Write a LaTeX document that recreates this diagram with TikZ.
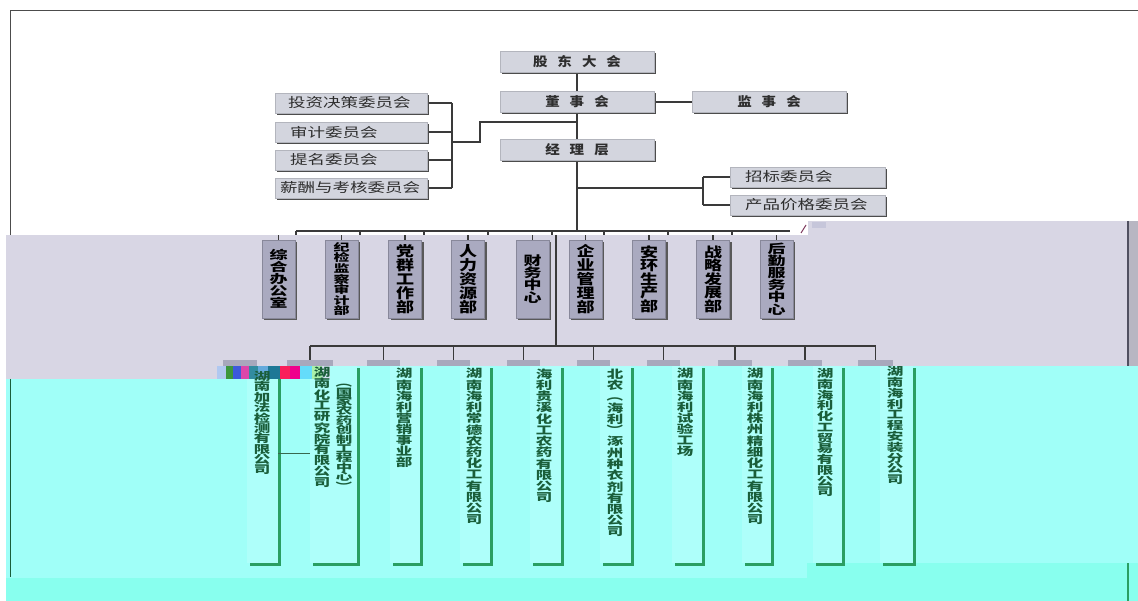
\documentclass[tikz,border=0pt]{standalone}
\usepackage{fontspec}
\usepackage{graphicx}
\newfontfamily\cjk{Noto Sans CJK SC}
\usetikzlibrary{shadows}
\pgfdeclarelayer{bg}
\pgfdeclarelayer{ln}
\pgfsetlayers{bg,ln,main}
\definecolor{lav}{HTML}{D8D6E4}
\definecolor{cyanbg}{HTML}{A0FFF8}
\definecolor{cyandk}{HTML}{88FFEE}
\definecolor{topgray}{HTML}{D3D5DE}
\definecolor{deptgray}{HTML}{AAAAC0}
\definecolor{stubgray}{HTML}{A8A8BC}
\definecolor{subfill}{HTML}{AEFFFA}
\definecolor{subgreen}{HTML}{2A9E62}
\definecolor{subtext}{HTML}{1A5E3A}
\definecolor{linec}{HTML}{3A3A3A}
\definecolor{txtdark}{HTML}{2E2E2E}
\makeatletter
\def\vst@end{\vst@end}
\newcommand\vst[3]{\vbox{\offinterlineskip\def\vst@bs{#1}\def\vst@ys{#2}\vst@loop#3\vst@end}}
\def\vst@loop#1{\ifx#1\vst@end\else\hbox to 1em{\hss\vbox to \vst@bs pt{\vss\hbox{\scalebox{1}[\vst@ys]{#1}}\vss}\hss}\expandafter\vst@loop\fi}
\makeatother
\newcommand\ysq[2]{\scalebox{1}[#1]{#2}}
\newcommand\lpv{\rotatebox[origin=c]{-90}{（}}
\newcommand\rpv{\rotatebox[origin=c]{-90}{）}}
\begin{document}
\begin{tikzpicture}[x=1pt,y=-1pt,
  topbox/.style={fill=topgray, draw=topgray!85!black, line width=0.4pt, minimum width=154pt, minimum height=21pt, inner sep=0pt,
    drop shadow={shadow xshift=2pt, shadow yshift=-2pt, fill=black!70, opacity=1}},
  cmtbox/.style={topbox, minimum width=152pt, minimum height=20pt},
  rcmtbox/.style={topbox, minimum width=155pt, minimum height=20pt},
  toptxt/.style={font=\cjk\bfseries\fontsize{14.5}{15}\selectfont, text=txtdark},
  cmtxt/.style={font=\cjk\fontsize{17.5}{18}\selectfont, text=txtdark, inner sep=0pt, anchor=west},
  deptbox/.style={fill=deptgray, draw=deptgray!80!black, line width=0.4pt, minimum width=33pt, minimum height=78pt, inner sep=0pt,
    font=\cjk\bfseries\fontsize{18}{18}\selectfont, text=black,
    drop shadow={shadow xshift=2pt, shadow yshift=-2pt, fill=black!65, opacity=1}},
  subbox/.style={fill=subfill, minimum height=197pt, inner sep=0pt,
    drop shadow={shadow xshift=2.5pt, shadow yshift=-2.5pt, fill=subgreen, opacity=1}},
  subtxt/.style={font=\cjk\bfseries\fontsize{16.5}{17}\selectfont, text=subtext, inner sep=0pt, anchor=north},
  stub/.style={fill=stubgray, minimum height=6pt, inner sep=0pt},
  conn/.style={draw=linec, line width=1.2pt}
]
\useasboundingbox (0,0) rectangle (1138,601);
% ---------------- backgrounds
\begin{pgfonlayer}{bg}
\fill[white] (0,0) rectangle (1138,601);
\fill[lav] (6,235) rectangle (1138,379);
\fill[lav] (808,221) rectangle (1138,235);
\fill[cyanbg] (330,366) rectangle (1138,578);
\fill[cyanbg] (6,379) rectangle (330,578);
\fill[cyandk] (6,578) rectangle (1138,601);
\fill[cyandk] (807,563) rectangle (1138,578);
\fill[fill={rgb,255:red,198;green,198;blue,218}] (812,222) rectangle (826,228);
\draw[draw={rgb,255:red,128;green,60;blue,96}, line width=1pt] (801,233) -- (806,225);
% right strip and borders
\fill[lav!85!black] (1129,221) rectangle (1138,366);
\draw[draw={rgb,255:red,80;green,80;blue,96}, line width=1.5pt] (1128,221) -- (1128,366);
\draw[subgreen, line width=1.5pt] (1128,563) -- (1128,601);
\draw[gray!60!black, line width=1pt] (10,11) -- (1138,11);
\draw[gray!60!black, line width=1pt] (10,11) -- (10,235);
\draw[subtext, line width=1pt] (10,379) -- (10,577);
\end{pgfonlayer}
% ---------------- top boxes
\node[topbox, toptxt] (gd) at (577,62) {\ysq{0.88}{股\kern10pt 东\kern10pt 大\kern10pt 会}};
\node[topbox, toptxt] (ds) at (577,102) {\ysq{0.88}{董\kern10pt 事\kern10pt 会}};
\node[topbox, toptxt] (js) at (769,102) {\ysq{0.88}{监\kern10pt 事\kern10pt 会}};
\node[topbox, toptxt] (jl) at (577,150) {\ysq{0.88}{经\kern10pt 理\kern10pt 层}};
\node[cmtbox] (c1) at (351,103) {};
\node[cmtbox] (c2) at (351,132) {};
\node[cmtbox] (c3) at (351,160) {};
\node[cmtbox] (c4) at (351,188) {};
\node[cmtxt] (c1t) at (288,103) {\ysq{0.75}{投资决策委员会}};
\node[cmtxt] (c2t) at (290,132) {\ysq{0.75}{审计委员会}};
\node[cmtxt] (c3t) at (290,160) {\ysq{0.75}{提名委员会}};
\node[cmtxt] (c4t) at (280,188) {\ysq{0.75}{薪酬与考核委员会}};
\node[rcmtbox] (r1) at (807.5,177) {};
\node[rcmtbox] (r2) at (807.5,205) {};
\node[cmtxt] (r1t) at (745,177) {\ysq{0.75}{招标委员会}};
\node[cmtxt] (r2t) at (745,205) {\ysq{0.75}{产品价格委员会}};
% ---------------- departments
\node[deptbox] (d1) at (278.5,279) {\vst{11.9}{0.66}{综合办公室}};
\node[deptbox, font=\cjk\bfseries\fontsize{16}{16}\selectfont] (d2) at (341.5,279) {\vst{10.6}{0.65}{纪检监察审计部}};
\node[deptbox] (d3) at (405,279) {\vst{13.9}{0.78}{党群工作部}};
\node[deptbox] (d4) at (468,279) {\vst{13.9}{0.78}{人力资源部}};
\node[deptbox] (d5) at (532.5,279) {\vst{12.3}{0.70}{财务中心}};
\node[deptbox] (d6) at (585.5,279) {\vst{13.9}{0.78}{企业管理部}};
\node[deptbox] (d7) at (649,279) {\vst{13.5}{0.76}{安环生产部}};
\node[deptbox] (d8) at (713,279) {\vst{13.5}{0.76}{战略发展部}};
\node[deptbox] (d9) at (776.5,279) {\vst{12.1}{0.68}{后勤服务中心}};
% ---------------- subsidiary stubs (lavender band)
\node[stub, minimum width=34pt] (s1) at (240,363) {};
\node[stub, minimum width=46pt] (s2) at (310,363) {};
\node[stub, minimum width=33pt] (s3) at (383.5,363) {};
\node[stub, minimum width=33pt] (s4) at (453.5,363) {};
\node[stub, minimum width=33pt] (s5) at (523.5,363) {};
\node[stub, minimum width=33pt] (s6) at (593.5,363) {};
\node[stub, minimum width=33pt] (s7) at (663.5,363) {};
\node[stub, minimum width=34pt] (s8) at (735,363) {};
\node[stub, minimum width=34pt] (s9) at (805,363) {};
\node[stub, minimum width=35pt] (s10) at (875.5,363) {};
% ---------------- subsidiary boxes
\node[subbox, minimum width=31pt] (b1) at (262.5,464.5) {};
\node[subbox, minimum width=47pt] (b2) at (333.5,464.5) {};
\node[subbox, minimum width=30pt] (b3) at (405,464.5) {};
\node[subbox, minimum width=30pt] (b4) at (475,464.5) {};
\node[subbox, minimum width=31pt] (b5) at (545.5,464.5) {};
\node[subbox, minimum width=31pt] (b6) at (615.5,464.5) {};
\node[subbox, minimum width=30pt] (b7) at (687,464.5) {};
\node[subbox, minimum width=29pt] (b8) at (756.5,464.5) {};
\node[subbox, minimum width=29pt] (b9) at (827.5,464.5) {};
\node[subbox, minimum width=33pt] (b10) at (896.5,464.5) {};
% glitch strip over the top of the first two boxes
\fill[fill={rgb,255:red,176;green,200;blue,240}] (217,366) rectangle (226,379);
\fill[fill={rgb,255:red,60;green,150;blue,60}] (226,366) rectangle (233,379);
\fill[fill={rgb,255:red,60;green,90;blue,220}] (233,366) rectangle (241,379);
\fill[fill={rgb,255:red,220;green,70;blue,170}] (241,366) rectangle (249,379);
\fill[fill={rgb,255:red,50;green,140;blue,160}] (249,366) rectangle (258,379);
\fill[fill={rgb,255:red,100;green,170;blue,220}] (258,366) rectangle (268,379);
\fill[fill={rgb,255:red,30;green,120;blue,150}] (268,366) rectangle (280,379);
\fill[fill={rgb,255:red,250;green,30;blue,90}] (280,366) rectangle (290,379);
\fill[fill={rgb,255:red,240;green,0;blue,140}] (290,366) rectangle (300,379);
\fill[fill={rgb,255:red,100;green,220;blue,250}] (300,366) rectangle (312,379);
\fill[fill={rgb,255:red,170;green,240;blue,170}] (312,366) rectangle (322,379);
\fill[fill={rgb,255:red,210;green,225;blue,240}] (322,366) rectangle (330,379);
\node[subtxt] (t1) at (262,371) {\vst{10.4}{0.66}{湖南加法检测有限公司}};
\node[subtxt] (t2a) at (322,367) {\vst{11}{0.68}{湖南化工研究院有限公司}};
\node[subtxt] (t2b) at (344,378) {\vst{9.4}{0.62}{\lpv 国家农药创制工程中心\rpv}};
\node[subtxt] (t3) at (404,368) {\vst{11.1}{0.68}{湖南海利营销事业部}};
\node[subtxt] (t4) at (474,368) {\vst{11.2}{0.68}{湖南海利常德农药化工有限公司}};
\node[subtxt] (t5) at (544,368) {\vst{11.25}{0.68}{海利贵溪化工农药有限公司}};
\node[subtxt] (t6) at (615,368) {\vst{11.3}{0.68}{北农\lpv 海利\rpv 涿州种衣剂有限公司}};
\node[subtxt] (t7) at (685,368) {\vst{11.1}{0.68}{湖南海利试验工场}};
\node[subtxt] (t8) at (755,368) {\vst{11.2}{0.68}{湖南海利株州精细化工有限公司}};
\node[subtxt] (t9) at (825,368) {\vst{10.75}{0.66}{湖南海利化工贸易有限公司}};
\node[subtxt] (t10) at (895,366) {\vst{10.8}{0.66}{湖南海利工程安装分公司}};
% ---------------- connectors
\coordinate (cb) at (452,142);
\coordinate (cj) at (480,122);
\coordinate (rb) at (703,188);
\coordinate (wtop) at (577,231);
\coordinate (dtop) at (556,235);
\coordinate (lb) at (556,346);
\coordinate (k) at (290,453);
\begin{pgfonlayer}{ln}
\draw[conn] (gd.south) -- (ds.north);
\draw[conn] (ds.south) -- (jl.north);
\draw[conn] (jl.south) -- (wtop);
\draw[conn] (ds.east) -- (js.west);
\foreach \c in {c1,c2,c3,c4} \draw[conn] (\c.east) -- (\c.east -| cb);
\draw[conn] (c1.east -| cb) -- (c4.east -| cb);
\draw[conn] (cb) -- (cb -| cj) -- (cj) -- (cj -| jl.south);
\draw[conn] (jl.south |- rb) -- (rb);
\draw[conn] (r1.west -| rb) -- (r2.west -| rb);
\draw[conn] (r1.west -| rb) -- (r1.west);
\draw[conn] (r2.west -| rb) -- (r2.west);
\draw[conn] (296,231) -- (790,231);
\foreach \x in {296,360,424,488,552,604,668,732} \draw[conn] (\x,231) -- (\x,235.5);
\draw[conn] (dtop) -- (lb);
\foreach \i in {1,...,9} \draw[conn] (d\i.north) -- (d\i.north |- dtop);
\draw[conn] (s2.north |- lb) -- (s10.north |- lb);
\foreach \i in {2,...,10} \draw[conn] (s\i.north) -- (s\i.north |- lb);
\end{pgfonlayer}
\draw[subtext!70!gray, line width=0.8pt] (b1.east |- k) -- (b2.west |- k);
\end{tikzpicture}
\end{document}
